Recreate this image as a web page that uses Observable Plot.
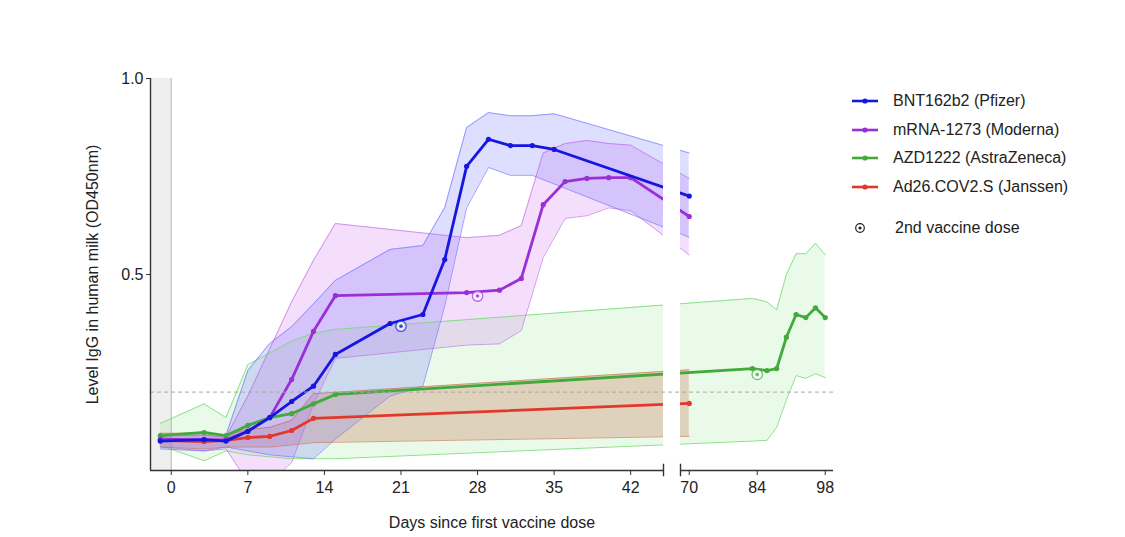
<!DOCTYPE html>
<html>
<head>
<meta charset="utf-8">
<script src="https://cdn.jsdelivr.net/npm/d3@7"></script>
<script src="https://cdn.jsdelivr.net/npm/@observablehq/plot@0.6"></script>
<style>
  body { margin: 0; background: #fff; font-family: "Liberation Sans", Arial, sans-serif; }
  #chart { position: relative; width: 1125px; height: 537px; }
  .legend-row { position: absolute; left: 850px; height: 20px; line-height: 20px; font-size: 16px; color: #222; white-space: nowrap; }
  .legend-row svg { position: absolute; left: 2px; top: 4px; }
  .legend-row span { position: absolute; left: 43px; top: 0; }
</style>
</head>
<body>
<div id="chart"></div>
<script>
// IgG in human milk after vaccination: mean per visit with a min–max band.
const seriesNames = ["BNT162b2 (Pfizer)", "mRNA-1273 (Moderna)", "AZD1222 (AstraZeneca)", "Ad26.COV2.S (Janssen)"];

const pfizerDay  = [-1, 3, 5, 7, 9, 11, 13, 15, 20, 23, 25, 27, 29, 31, 33, 35, 70];
const pfizerMean = [0.075, 0.079, 0.075, 0.10, 0.135, 0.176, 0.215, 0.296, 0.375, 0.398, 0.538, 0.776, 0.845, 0.829, 0.829, 0.819, 0.70];
const pfizerLow  = [0.055, 0.05, 0.06, 0.05, 0.04, 0.035, 0.03, 0.08, 0.19, 0.215, 0.42, 0.67, 0.773, 0.753, 0.753, 0.731, 0.595];
const pfizerHigh = [0.09, 0.095, 0.09, 0.255, 0.324, 0.367, 0.425, 0.485, 0.564, 0.574, 0.671, 0.875, 0.913, 0.905, 0.905, 0.91, 0.81];

const modernaDay  = [-1, 3, 5, 7, 9, 11, 13, 15, 27, 30, 32, 34, 36, 38, 40, 42, 70];
const modernaMean = [0.08, 0.078, 0.078, 0.10, 0.135, 0.232, 0.355, 0.446, 0.454, 0.46, 0.49, 0.678, 0.737, 0.745, 0.747, 0.747, 0.648];
const modernaLow  = [0.06, 0.05, 0.055, -0.03, -0.03, 0.02, 0.17, 0.286, 0.32, 0.323, 0.357, 0.543, 0.643, 0.65, 0.67, 0.663, 0.55];
const modernaHigh = [0.09, 0.09, 0.085, 0.19, 0.31, 0.43, 0.536, 0.63, 0.594, 0.60, 0.625, 0.81, 0.834, 0.842, 0.834, 0.83, 0.745];

const azDay  = [-1, 3, 5, 7, 9, 11, 13, 15, 83, 86, 88, 90, 92, 94, 96, 98];
const azMean = [0.089, 0.097, 0.089, 0.115, 0.135, 0.145, 0.17, 0.194, 0.26, 0.255, 0.26, 0.34, 0.398, 0.39, 0.415, 0.39];
const azLow  = [0.064, 0.025, 0.05, 0.04, 0.035, 0.03, 0.03, 0.03, 0.075, 0.077, 0.11, 0.18, 0.242, 0.235, 0.247, 0.237];
const azHigh = [0.12, 0.17, 0.135, 0.27, 0.30, 0.33, 0.35, 0.36, 0.439, 0.43, 0.41, 0.50, 0.553, 0.553, 0.58, 0.55];

const janssenDay  = [-1, 3, 5, 7, 9, 11, 13, 70];
const janssenMean = [0.077, 0.074, 0.077, 0.084, 0.087, 0.102, 0.133, 0.171];
const janssenLow  = [0.06, 0.055, 0.06, 0.06, 0.06, 0.065, 0.071, 0.087];
const janssenHigh = [0.095, 0.095, 0.09, 0.105, 0.11, 0.128, 0.196, 0.257];

// Second dose (Pfizer, Moderna, AstraZeneca)
const doseSeries = [0, 1, 2];
const doseDay    = [21, 28, 84];
const doseLevel  = [0.368, 0.445, 0.245];

const dayTicks   = [0, 7, 14, 21, 28, 35, 42, 70, 84, 98];
const levelTicks = [0.5, 1.0];
const threshold  = 0.2;

// Broken day axis: [-1.9, 45] then [68.2, 99.7]
const axisStart = -1.9, breakStart = 45, breakEnd = 68.2, axisEnd = 99.7;

const lineColors = ["#1616e0", "#9a2fd6", "#41aa3a", "#e2372b"];
const bandFills  = ["#6b6bff", "#d27cf0", "#7fe07f", "#c4603c"];
const bandFillOpacity = [0.22, 0.25, 0.17, 0.26];
const bandStrokes = ["#6b6bff", "#b45de0", "#78dc78", "#c4603c"];
const bandStrokeOpacity = [0.65, 0.6, 0.85, 0.55];

function rows(day, mean, low, high) {
  return day.map((d, i) => ({day: d, mean: mean[i], low: low[i], high: high[i]}));
}
const series = [
  rows(pfizerDay, pfizerMean, pfizerLow, pfizerHigh),
  rows(modernaDay, modernaMean, modernaLow, modernaHigh),
  rows(azDay, azMean, azLow, azHigh),
  rows(janssenDay, janssenMean, janssenLow, janssenHigh)
];
const doses = doseSeries.map((s, i) => ({s, day: doseDay[i], level: doseLevel[i]}));

// draw the bands back to front: AstraZeneca, Janssen, Moderna, Pfizer
const drawOrder = [2, 3, 1, 0];

const marks = [
  Plot.rect([0], {x1: axisStart, x2: 0, y1: 0, y2: 1, fill: "#efefef"}),
  Plot.ruleX([0], {y1: 0, y2: 1, stroke: "#c9c9c9", strokeWidth: 1.5})
];
for (const s of drawOrder) {
  marks.push(Plot.areaY(series[s], {x: "day", y1: "low", y2: "high", fill: bandFills[s], fillOpacity: bandFillOpacity[s], clip: true}));
}
for (const s of drawOrder) {
  for (const key of ["low", "high"]) {
    marks.push(Plot.lineY(series[s], {x: "day", y: key, stroke: bandStrokes[s], strokeOpacity: bandStrokeOpacity[s], strokeWidth: 1, clip: true}));
  }
}
for (const s of drawOrder) {
  marks.push(Plot.lineY(series[s], {x: "day", y: "mean", stroke: lineColors[s], strokeWidth: 2.8}));
  marks.push(Plot.dot(series[s], {x: "day", y: "mean", r: 2.6, fill: lineColors[s]}));
}
marks.push(
  Plot.dot(doses, {x: "day", y: "level", r: 5.2, fill: "white", fillOpacity: 0.6, stroke: d => lineColors[d.s], strokeOpacity: 0.7, strokeWidth: 1.3}),
  Plot.dot(doses, {x: "day", y: "level", r: 1.8, fill: d => lineColors[d.s], fillOpacity: 0.8}),
  // blank the gap between the two halves of the day axis
  Plot.rect([0], {x1: breakStart, x2: breakEnd, y1: 0, y2: 1, fill: "white"}),
  Plot.ruleY([threshold], {x1: axisStart, x2: axisEnd, stroke: "#a8a8a8", strokeWidth: 1, strokeDasharray: "4,3"}),
  // axis lines
  Plot.ruleX([axisStart], {y1: 0, y2: 1, stroke: "#333", strokeWidth: 1.4}),
  Plot.ruleY([0], {x1: axisStart, x2: breakStart, stroke: "#333", strokeWidth: 1.4}),
  Plot.ruleY([0], {x1: breakEnd, x2: axisEnd, stroke: "#333", strokeWidth: 1.4}),
  Plot.ruleX([breakStart, breakEnd], {y1: -0.016, y2: 0.016, stroke: "#333", strokeWidth: 1.4}),
  Plot.axisX(dayTicks, {tickSize: 5, tickPadding: 6, stroke: "#333", fill: "#222",
    label: "Days since first vaccine dose", labelAnchor: "center", labelOffset: 57, labelArrow: "none"}),
  Plot.axisY(levelTicks, {tickSize: 4, tickPadding: 3, stroke: "#333", fill: "#222", tickFormat: d => d.toFixed(1),
    label: "Level IgG in human milk (OD450nm)", labelAnchor: "center", labelOffset: 64, labelArrow: "none"})
);

const chart = Plot.plot({
  width: 1125,
  height: 537,
  marginLeft: 150,
  marginRight: 292,
  marginTop: 78,
  marginBottom: 67,
  x: {type: "linear", domain: [axisStart, breakStart, breakEnd, axisEnd], range: [150, 663, 680, 833]},
  y: {domain: [0, 1]},
  style: {fontFamily: "'Liberation Sans', Arial, sans-serif", fontSize: "16px", color: "#222", background: "transparent"},
  marks
});
const root = document.getElementById("chart");
root.appendChild(chart);

// legend on the right
const legendTop = [91, 119.5, 148, 176.5];
seriesNames.forEach((name, i) => {
  const row = document.createElement("div");
  row.className = "legend-row";
  row.style.top = legendTop[i] + "px";
  row.innerHTML = `<svg width="26" height="12"><line x1="0" x2="26" y1="6" y2="6" stroke="${lineColors[i]}" stroke-width="2.6"/><circle cx="13" cy="6" r="2.6" fill="${lineColors[i]}"/></svg><span>${name}</span>`;
  root.appendChild(row);
});
const doseRow = document.createElement("div");
doseRow.className = "legend-row";
doseRow.style.top = "218px";
doseRow.innerHTML = `<svg width="20" height="12" style="left:4px"><circle cx="6" cy="6" r="4.3" fill="none" stroke="#222" stroke-width="1.2"/><circle cx="6" cy="6" r="1.6" fill="#222"/></svg><span style="left:45px">2nd vaccine dose</span>`;
root.appendChild(doseRow);
</script>
</body>
</html>
